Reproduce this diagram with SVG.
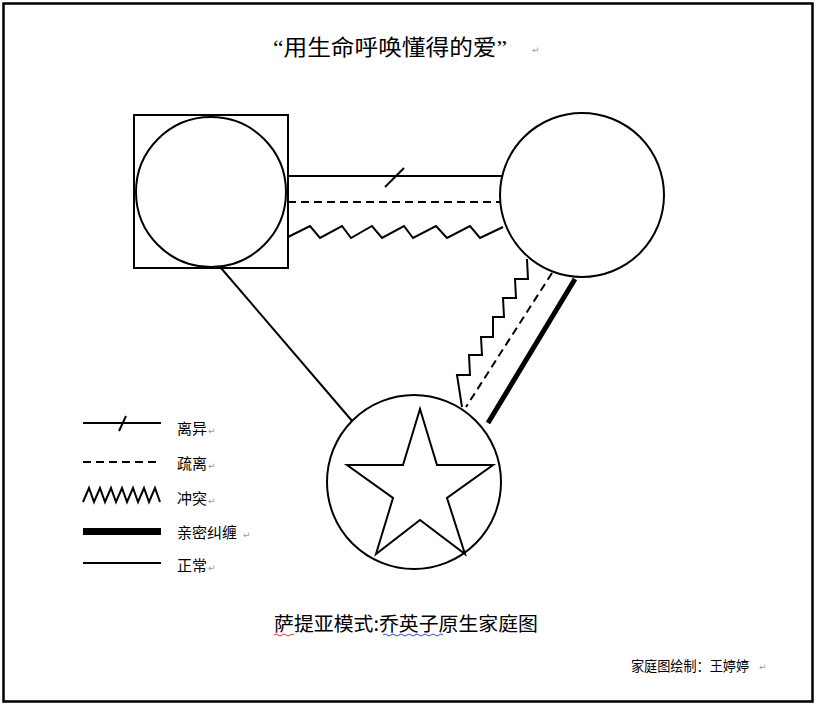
<svg xmlns="http://www.w3.org/2000/svg" width="818" height="707" viewBox="0 0 818 707">
<style>
.ln{fill:none;stroke:#000;stroke-width:2}
.nd{fill:#fff;stroke:#000;stroke-width:2}
.cjk{font-family:"Noto Sans CJK SC","Liberation Sans",sans-serif;fill:#000}
.ttl{font-family:"Liberation Serif","Noto Sans CJK SC",serif;fill:#000}
.pm{font-family:"DejaVu Sans",sans-serif;font-size:9px;fill:#999}
.dash{stroke-dasharray:8 5}
</style>
<rect x="3.5" y="3.5" width="809" height="698" fill="#fff" stroke="#000" stroke-width="2.5"/>

<text class="ttl" x="273" y="55" font-size="22" textLength="234" lengthAdjust="spacingAndGlyphs">“用生命呼唤懂得的爱”</text>
<text class="pm" x="532" y="53">↵</text>

<g id="connectors">
  <!-- father - mother: divorce -->
  <line class="ln" x1="288" y1="176" x2="502" y2="176"/>
  <line class="ln" x1="385" y1="187" x2="404" y2="168"/>
  <!-- estrangement -->
  <line class="ln dash" x1="288" y1="202" x2="500" y2="202"/>
  <!-- conflict -->
  <polyline class="ln" points="288,237 310,226 320,238 342,226 351,238 372,226 382,238 404,226 413,238 436,226 447,238 470,226 480,238 503,227"/>
  <!-- father - child normal -->
  <line class="ln" x1="221" y1="268" x2="353" y2="422"/>
  <!-- mother - child conflict -->
  <polyline class="ln" points="527,259 528,279 515,279 516,298 503,298 504,317 493,317 493,337 481,337 482,355 469,355 470,375 457,375 462,407"/>
  <!-- mother - child estrangement -->
  <line class="ln dash" x1="552" y1="273" x2="466" y2="407"/>
  <!-- mother - child enmeshment -->
  <line x1="575" y1="279" x2="488" y2="423" stroke="#000" stroke-width="5"/>
</g>

<g id="father">
  <rect class="nd" x="134" y="115" width="154" height="153"/>
  <circle class="nd" cx="211" cy="192" r="75"/>
</g>

<g id="mother">
  <circle class="nd" cx="582" cy="195" r="82"/>
</g>

<g id="child">
  <circle class="nd" cx="414" cy="482" r="87"/>
  <polygon class="ln" points="420,409 437,465 493,465 447,498 465,554 420,520 376,554 393,498 347,465 403,465"/>
</g>

<g id="legend">
  <line class="ln" x1="83" y1="423" x2="161" y2="423"/>
  <line class="ln" x1="119" y1="431" x2="126" y2="416"/>
  <text class="cjk" x="177" y="434" font-size="15">离异</text>
  <text class="pm" x="208" y="434">↵</text>

  <line class="ln dash" x1="83" y1="462" x2="161" y2="462"/>
  <text class="cjk" x="177" y="469" font-size="15">疏离</text>
  <text class="pm" x="208" y="469">↵</text>

  <polyline class="ln" points="83,502 89,488 94,502 100,488 105,502 111,488 116,502 122,488 127,502 133,488 138,502 144,488 149,502 155,488 160,502"/>
  <text class="cjk" x="177" y="504" font-size="15">冲突</text>
  <text class="pm" x="208" y="504">↵</text>

  <rect x="83" y="528" width="78" height="7" fill="#000"/>
  <text class="cjk" x="177" y="538" font-size="15">亲密纠缠</text>
  <text class="pm" x="243" y="538">↵</text>

  <line class="ln" x1="83" y1="563" x2="161" y2="563"/>
  <text class="cjk" x="177" y="571" font-size="15">正常</text>
  <text class="pm" x="208" y="571">↵</text>
</g>

<text class="cjk" x="274" y="631" font-size="19.5" textLength="264" lengthAdjust="spacingAndGlyphs">萨提亚模式:乔英子原生家庭图</text>
<path d="M274,635 q2,-2 4,0 t4,0 t4,0 t4,0 t4,0" fill="none" stroke="#e03030" stroke-width="1"/>
<path d="M383,635 q2,-2 4,0 t4,0 t4,0 t4,0 t4,0 t4,0 t4,0 t4,0 t4,0 t4,0 t4,0 t4,0 t4,0 t4,0 t4,0" fill="none" stroke="#3050d0" stroke-width="1"/>

<text class="cjk" x="631" y="671" font-size="14" textLength="118" lengthAdjust="spacingAndGlyphs">家庭图绘制：王婷婷</text>
<text class="pm" x="759" y="670">↵</text>
</svg>
